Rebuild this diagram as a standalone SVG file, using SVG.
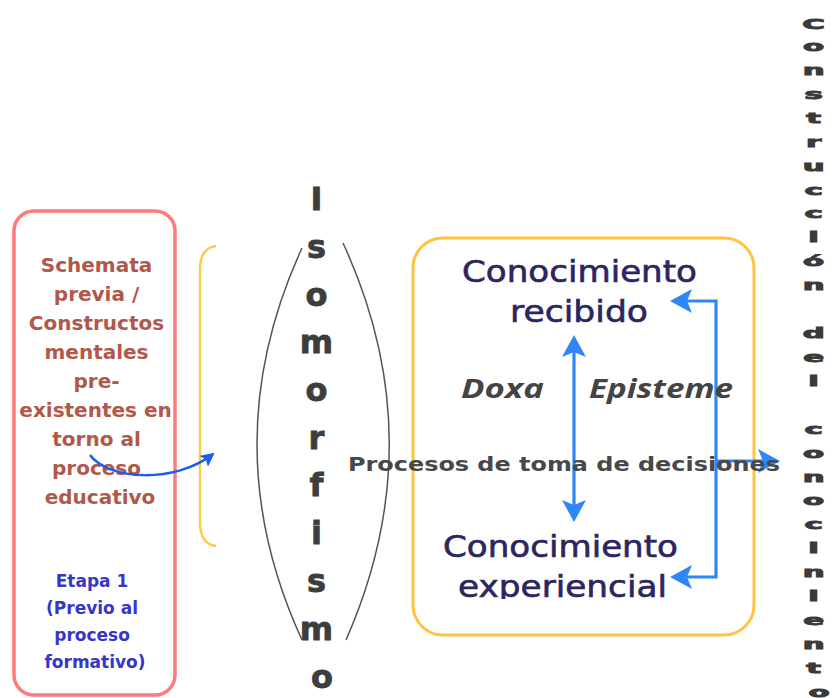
<svg xmlns="http://www.w3.org/2000/svg" width="832" height="698" viewBox="0 0 832 698">
<style>
.schem{font-family:"DejaVu Sans",sans-serif;font-weight:bold;font-size:20px;fill:#b0584a;text-anchor:middle}
.etapa{font-family:"DejaVu Sans",sans-serif;font-weight:bold;font-size:17px;fill:#3636c8;text-anchor:middle}
.iso{font-family:"DejaVu Sans",sans-serif;font-weight:bold;font-size:32px;fill:#3d3d3d;stroke:#3d3d3d;stroke-width:0.8;text-anchor:middle}
.con{font-family:"DejaVu Sans",sans-serif;font-size:30px;fill:#2b2560;stroke:#2b2560;stroke-width:0.6}
.gk{font-family:"Open Sans",sans-serif;font-weight:bold;font-style:italic;font-size:27px;fill:#444}
.proc{font-family:"DejaVu Sans",sans-serif;font-weight:bold;font-size:20px;fill:#484848}
.vert{font-family:"DejaVu Sans",sans-serif;font-weight:bold;font-size:14px;fill:#3a3a3a;stroke:#3a3a3a;stroke-width:0.9;text-anchor:middle}
.blue{fill:none;stroke:#2f86f6;stroke-width:3.2}
</style>
<defs>
<marker id="ah" viewBox="0 0 22 24" refX="5" refY="12" markerWidth="22" markerHeight="24" markerUnits="userSpaceOnUse" orient="auto-start-reverse">
<path d="M0,0 L22,12 L0,24 L5,12 z" fill="#2f86f6"/>
</marker>
<marker id="ahs" viewBox="0 0 14 14" refX="12" refY="7" markerWidth="14" markerHeight="14" markerUnits="userSpaceOnUse" orient="auto">
<path d="M0,0 L14,7 L0,14 L3,7 z" fill="#1e5cf0"/>
</marker>
<clipPath id="clipExp"><rect x="400" y="500" width="360" height="99"/></clipPath>
</defs>

<g id="node-schemata">
<text class="schem">
<tspan x="100" y="272">Schemata</tspan>
<tspan x="100" y="301">previa /</tspan>
<tspan x="100" y="330">Constructos</tspan>
<tspan x="100" y="359">mentales</tspan>
<tspan x="100" y="388">pre-</tspan>
<tspan x="99" y="417">existentes en</tspan>
<tspan x="100" y="446">torno al</tspan>
<tspan x="100" y="475">proceso</tspan>
<tspan x="100" y="504">educativo</tspan>
</text>
<text class="etapa">
<tspan x="95" y="587">Etapa 1</tspan>
<tspan x="95" y="614">(Previo al</tspan>
<tspan x="95" y="641">proceso</tspan>
<tspan x="95" y="668">formativo)</tspan>
</text>
<rect x="14" y="211" width="161" height="484" rx="20" fill="none" stroke="#ff7b7b" stroke-width="3.5"/>
</g>

<g id="node-bracket">
<path d="M216,246 Q200,248 200,270 V522 Q200,544 216,546" fill="none" stroke="#ffc94a" stroke-width="2.5"/>
</g>

<g id="node-isomorfismo">
<path d="M302,248 Q212,444 302,640" fill="none" stroke="#555" stroke-width="1.5"/>
<path d="M343,243 Q434,440 346,640" fill="none" stroke="#555" stroke-width="1.5"/>
<text class="iso">
<tspan x="322" y="210">I</tspan>
<tspan x="322" y="258">s</tspan>
<tspan x="322" y="306">o</tspan>
<tspan x="322" y="353">m</tspan>
<tspan x="322" y="401">o</tspan>
<tspan x="322" y="449">r</tspan>
<tspan x="322" y="496">f</tspan>
<tspan x="322" y="544">i</tspan>
<tspan x="322" y="592">s</tspan>
<tspan x="322" y="640">m</tspan>
<tspan x="322" y="688">o</tspan>
</text>
</g>

<g id="node-conocimiento-box">
<rect x="413" y="238" width="341" height="397" rx="30" fill="none" stroke="#ffc43d" stroke-width="3"/>
</g>

<g id="connectors">
<path d="M90,455 C108,480 175,484 213,454" fill="none" stroke="#1e5cf0" stroke-width="2.5" marker-end="url(#ahs)"/>
<path class="blue" d="M574,352 V505" marker-start="url(#ah)" marker-end="url(#ah)"/>
<path class="blue" d="M687,301 H716 V577 H687" marker-start="url(#ah)" marker-end="url(#ah)"/>
<path class="blue" d="M716,461 H763" marker-end="url(#ah)"/>
</g>

<g id="node-recibido">
<text class="con" x="462" y="282" textLength="235" lengthAdjust="spacingAndGlyphs">Conocimiento</text>
<text class="con" x="510" y="322" textLength="138" lengthAdjust="spacingAndGlyphs">recibido</text>
</g>

<g id="node-doxa">
<text class="gk" x="461" y="398" textLength="83" lengthAdjust="spacingAndGlyphs">Doxa</text>
</g>
<g id="node-episteme">
<text class="gk" x="589" y="398" textLength="144" lengthAdjust="spacingAndGlyphs">Episteme</text>
</g>

<g id="node-procesos">
<text class="proc" x="348" y="471" textLength="432" lengthAdjust="spacingAndGlyphs">Procesos de toma de decisiones</text>
</g>

<g id="node-experiencial">
<text class="con" x="443" y="557" textLength="235" lengthAdjust="spacingAndGlyphs">Conocimiento</text>
<text class="con" x="458" y="597" textLength="209" lengthAdjust="spacingAndGlyphs" clip-path="url(#clipExp)">experiencial</text>
</g>

<g id="node-construccion" transform="translate(819,0) scale(2.2,1)">
<text class="vert">
<tspan x="0" y="29">C</tspan>
<tspan x="0" y="51">o</tspan>
<tspan x="0" y="75">n</tspan>
<tspan x="0" y="99">s</tspan>
<tspan x="0" y="123">t</tspan>
<tspan x="0" y="147">r</tspan>
<tspan x="0" y="171">u</tspan>
<tspan x="0" y="195">c</tspan>
<tspan x="0" y="218">c</tspan>
<tspan x="0" y="242">i</tspan>
<tspan x="0" y="266">ó</tspan>
<tspan x="0" y="290">n</tspan>
<tspan x="0" y="338">d</tspan>
<tspan x="0" y="362">e</tspan>
<tspan x="0" y="386">l</tspan>
<tspan x="0" y="434">c</tspan>
<tspan x="0" y="458">o</tspan>
<tspan x="0" y="482">n</tspan>
<tspan x="0" y="505">o</tspan>
<tspan x="0" y="529">c</tspan>
<tspan x="0" y="553">i</tspan>
<tspan x="0" y="577">n</tspan>
<tspan x="0" y="601">i</tspan>
<tspan x="0" y="625">e</tspan>
<tspan x="0" y="649">n</tspan>
<tspan x="0" y="673">t</tspan>
<tspan x="0" y="697">o</tspan>
</text>
</g>
</svg>
